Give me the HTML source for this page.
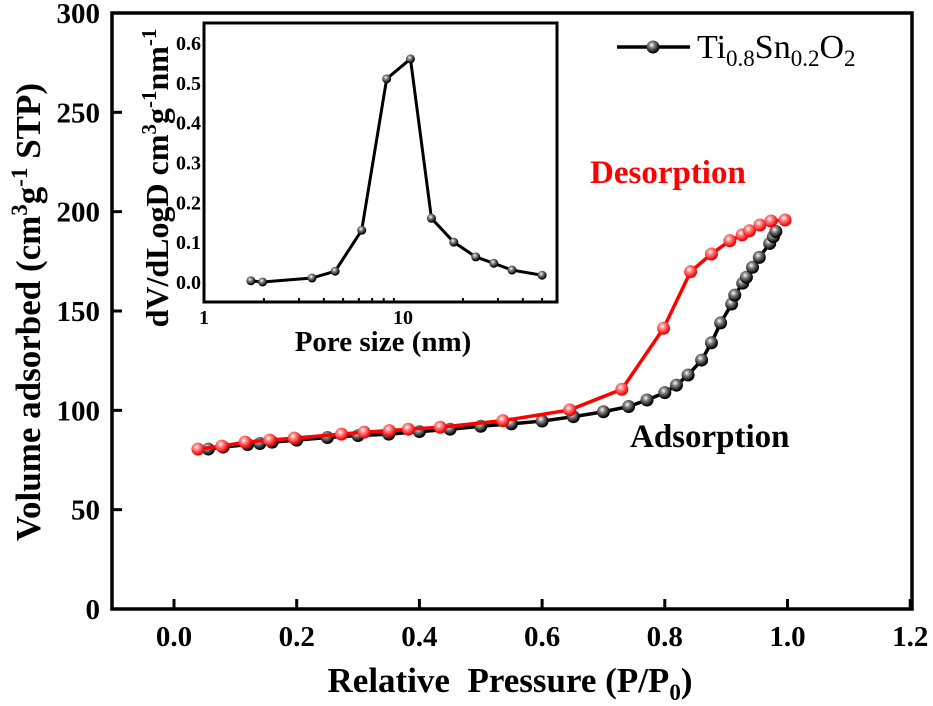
<!DOCTYPE html>
<html><head><meta charset="utf-8"><style>
body{margin:0;background:#fff}
svg text{font-family:"Liberation Serif",serif;font-weight:bold}
</style></head><body>
<svg id="chart" width="933" height="701" viewBox="0 0 933 701" xmlns="http://www.w3.org/2000/svg">
<defs>
<radialGradient id="gb" cx="0.4" cy="0.35" r="0.6"><stop offset="0" stop-color="#fff"/><stop offset="0.35" stop-color="#888"/><stop offset="1" stop-color="#000"/></radialGradient>
<radialGradient id="gr" cx="0.4" cy="0.35" r="0.6"><stop offset="0" stop-color="#fff"/><stop offset="0.35" stop-color="#f88"/><stop offset="1" stop-color="#e00"/></radialGradient>
</defs>
<g id="main"></g>
<g id="inset"></g>
</svg>
<script>
const adsX=[0.056,0.08,0.12,0.14,0.16,0.2,0.25,0.3,0.35,0.4,0.45,0.5,0.55,0.6,0.651,0.70,0.741,0.771,0.80,0.819,0.838,0.86,0.876,0.891,0.909,0.914,0.927,0.933,0.943,0.954,0.971,0.977,0.981];
const adsY=[80.5,81.5,82.8,83.3,84,85,86.3,87.3,88,89.3,90.5,92,93.2,94.6,96.8,99.3,101.9,105.2,108.9,112.7,117.8,125.3,134,144,153.5,158,164,167,172,177,184,187.4,190];
const desX=[0.039,0.078,0.116,0.156,0.196,0.273,0.31,0.351,0.382,0.434,0.536,0.645,0.73,0.798,0.842,0.876,0.906,0.926,0.938,0.955,0.973,0.996];
const desY=[80.5,82,84,85,86,88,89,89.8,90.5,91.5,94.8,100.2,110.6,141.3,169.8,178.7,185.4,188.3,190.4,193.3,195.3,195.8];
const xTicks=[0.0,0.2,0.4,0.6,0.8,1.0,1.2];
const yTicks=[0,50,100,150,200,250,300];
const poreX=[1.72,1.97,3.49,4.56,6.2,8.28,10.9,13.9,18,23.2,28.6,35.3,50];
const poreY=[0.003,0.0,0.01,0.027,0.13,0.51,0.56,0.16,0.1,0.063,0.047,0.03,0.017];
const inYTicks=[0.0,0.1,0.2,0.3,0.4,0.5,0.6];
const inXTicks=[1,10];

const NS="http://www.w3.org/2000/svg";
function mk(parent,tag,attrs,txt){const e=document.createElementNS(NS,tag);for(const k in attrs)e.setAttribute(k,attrs[k]);if(txt!==undefined)e.textContent=txt;parent.appendChild(e);return e;}
const main=document.getElementById('main'), inset=document.getElementById('inset');
const X=v=>174+(v)*613.5/1.0, Y=v=>609-v*596/300;
const L=112,R=912,T=13,B=609;
xTicks.forEach(t=>{
 const ln=mk(main,'line',{x1:X(t),x2:X(t),y1:B,y2:B-10,stroke:'#000','stroke-width':3});
 
 
 const tx=mk(main,'text',{x:X(t),y:646,'text-anchor':'middle','font-size':29},t.toFixed(1));
 
 
});
yTicks.forEach(t=>{
 const ln=mk(main,'line',{x1:L,x2:L+10,y1:Y(t),y2:Y(t),stroke:'#000','stroke-width':3});
 
 
 const tx=mk(main,'text',{x:100,y:Y(t)+10,'text-anchor':'end','font-size':29},String(t));
 
 
});
const fr=mk(main,'rect',{x:L,y:T,width:R-L,height:B-T,fill:'none',stroke:'#000','stroke-width':3.5});


function series(g,xs,ys,fx,fy,color,grad,r,sw,name){
 const pl=mk(g,'polyline',{points:xs.map((x,i)=>fx(x)+','+fy(ys[i])).join(' '),fill:'none',stroke:color,'stroke-width':sw});
 
 
 xs.forEach((x,i)=>{const c=mk(g,'circle',{cx:fx(x),cy:fy(ys[i]),r:r,fill:'url(#'+grad+')'});
  
  });
}
series(main,adsX,adsY,X,Y,'#000','gb',6.5,3.5,'adsorption');
series(main,desX,desY,X,Y,'#f00','gr',6.5,3.5,'desorption');
let t;
t=mk(main,'text',{x:590,y:183,'font-size':33,fill:'#f00'},'Desorption');
t=mk(main,'text',{x:630,y:447,'font-size':33},'Adsorption');
t=mk(main,'text',{x:510,y:692,'text-anchor':'middle','font-size':35},'');t.innerHTML='Relative&#160; Pressure (P/P<tspan font-size="23" dy="8">0</tspan><tspan dy="-8">)</tspan>';
t=mk(main,'text',{x:0,y:0,'text-anchor':'middle','font-size':35,transform:'translate(40,312) rotate(-90)'},'');t.innerHTML='Volume adsorbed (cm<tspan font-size="23" dy="-13">3</tspan><tspan dy="13">g</tspan><tspan font-size="23" dy="-13">-1</tspan><tspan dy="13"> STP)</tspan>';
const lg=mk(main,'g',{});
mk(lg,'line',{x1:617,x2:690,y1:47,y2:47,stroke:'#000','stroke-width':3.5});
mk(lg,'circle',{cx:653,cy:47,r:6.5,fill:'url(#gb)'});
const lt=mk(lg,'text',{x:697,y:58,'font-size':34,style:'font-weight:normal'},'');lt.innerHTML='Ti<tspan font-size="23" dy="8">0.8</tspan><tspan dy="-8">Sn</tspan><tspan font-size="23" dy="8">0.2</tspan><tspan dy="-8">O</tspan><tspan font-size="23" dy="8">2</tspan>';

const iL=204,iR=557,iT=23,iB=302;
const IX=v=>iL+Math.log10(v)*199, IY=v=>282-v*(282-43)/0.6;
const bg=mk(inset,'rect',{x:iL,y:iT,width:iR-iL,height:iB-iT,fill:'#fff',stroke:'#000','stroke-width':3});

inYTicks.forEach(v=>{
 const tx=mk(inset,'text',{x:201,y:IY(v)+7,'text-anchor':'end','font-size':20},v.toFixed(1));
 
 
});
inXTicks.forEach(v=>{
 const tx=mk(inset,'text',{x:IX(v),y:324,'text-anchor':'middle','font-size':20},String(v));
 
 
});
[2,3,4,5,6,7,8,9,20,30,40,50].forEach(v=>{
 const ln=mk(inset,'line',{x1:IX(v),x2:IX(v),y1:iB,y2:iB-4,stroke:'#000','stroke-width':2});
 
 
});
series(inset,poreX,poreY,IX,IY,'#000','gb',4.5,3,'pore-distribution');
t=mk(inset,'text',{x:383,y:351,'text-anchor':'middle','font-size':29},'Pore size (nm)');
t=mk(inset,'text',{x:0,y:0,'text-anchor':'middle','font-size':32,transform:'translate(168,178) rotate(-90)'},'');t.innerHTML='dV/dLogD cm<tspan font-size="21" dy="-12">3</tspan><tspan dy="12">g</tspan><tspan font-size="21" dy="-12">-1</tspan><tspan dy="12">nm</tspan><tspan font-size="21" dy="-12">-1</tspan>';
</script>
</body></html>
